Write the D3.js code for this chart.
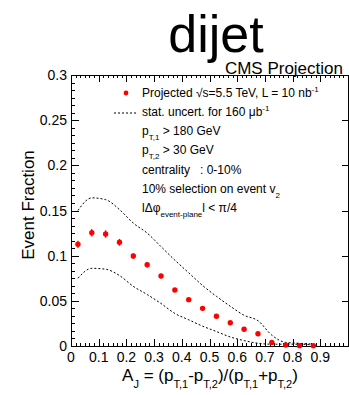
<!DOCTYPE html>
<html>
<head>
<meta charset="utf-8">
<script src="https://cdn.jsdelivr.net/npm/d3@7"></script>
<style>
  html, body { margin: 0; padding: 0; background: #fff; }
  svg { display: block; font-family: "Liberation Sans", Arial, Helvetica, sans-serif; }
</style>
</head>
<body>
<svg id="chart" width="349" height="395"></svg>
<script>
// ---- data ----
const ajCenters = [0.025, 0.075, 0.125, 0.175, 0.225, 0.275, 0.325, 0.375, 0.425, 0.475, 0.525, 0.575, 0.625, 0.675, 0.725, 0.775, 0.825, 0.875];
const fraction  = [0.1126, 0.1254, 0.1240, 0.1148, 0.0996, 0.0900, 0.0775, 0.0620, 0.0513, 0.0417, 0.0330, 0.0258, 0.0185, 0.0135, 0.0040, 0.0010, 0.0004, 0.0002];
const fracErr   = [0.0040, 0.0042, 0.0042, 0.0038, 0.0032, 0.0030, 0.0026, 0.0022, 0.0020, 0.0018, 0.0016, 0.0014, 0.0012, 0.0010, 0.0008, 0.0005, 0.0003, 0.0002];
const upperBand = [0.150, 0.164, 0.162, 0.151, 0.136, 0.125, 0.110, 0.095, 0.081, 0.067, 0.055, 0.044, 0.034, 0.028, 0.012, 0.004, 0.003, 0.002];
const lowerBand = [0.075, 0.086, 0.085, 0.078, 0.066, 0.057, 0.047, 0.036, 0.029, 0.022, 0.016, 0.010, 0.006, 0.003, 0.002, 0.002, 0.002, 0.001];
const xTickLabels = ["0", "0.1", "0.2", "0.3", "0.4", "0.5", "0.6", "0.7", "0.8", "0.9"];
const xTickValues = [0, 0.1, 0.2, 0.3, 0.4, 0.5, 0.6, 0.7, 0.8, 0.9];
const yTickLabels = ["0", "0.05", "0.1", "0.15", "0.2", "0.25", "0.3"];
const yTickValues = [0, 0.05, 0.1, 0.15, 0.2, 0.25, 0.3];

// ---- layout ----
const svg = d3.select("#chart");
const L = 71, R = 348, T = 75, B = 346;
const x = d3.scaleLinear().domain([0, 1]).range([L, R]);
const y = d3.scaleLinear().domain([0, 0.3]).range([B, T]);

// frame
svg.append("rect").attr("x", L + 0.5).attr("y", T + 0.5).attr("width", R - L).attr("height", B - T)
  .attr("fill", "none").attr("stroke", "#000").attr("stroke-width", 1);

// x ticks (bottom, pointing up) + top (pointing down)
const xMinor = d3.range(0, 1.0001, 0.1 / 6);
const ax = svg.append("g").attr("stroke", "#000").attr("stroke-width", 1);
xMinor.forEach(v => {
  const px = Math.round(x(v)) + 0.5;
  ax.append("line").attr("x1", px).attr("x2", px).attr("y1", B).attr("y2", B - 3);
  ax.append("line").attr("x1", px).attr("x2", px).attr("y1", T).attr("y2", T + 3);
});
xTickValues.concat([1]).forEach(v => {
  const px = Math.round(x(v)) + 0.5;
  ax.append("line").attr("x1", px).attr("x2", px).attr("y1", B).attr("y2", B - 7);
  ax.append("line").attr("x1", px).attr("x2", px).attr("y1", T).attr("y2", T + 7);
});
// y ticks (left, pointing right) + right majors
const yMinor = d3.range(0, 0.3001, 0.05 / 6);
yMinor.forEach(v => {
  const py = Math.round(y(v)) + 0.5;
  ax.append("line").attr("x1", L).attr("x2", L + 4).attr("y1", py).attr("y2", py);
});
yTickValues.forEach(v => {
  const py = Math.round(y(v)) + 0.5;
  ax.append("line").attr("x1", L).attr("x2", L + 8).attr("y1", py).attr("y2", py);
  ax.append("line").attr("x1", R).attr("x2", R - 6).attr("y1", py).attr("y2", py);
});

// tick labels
svg.append("g").selectAll("text").data(xTickValues).join("text")
  .attr("x", d => x(d)).attr("y", 362).attr("text-anchor", "middle")
  .attr("font-size", 14).text((d, i) => xTickLabels[i]);
svg.append("g").selectAll("text").data(yTickValues).join("text")
  .attr("x", 67).attr("y", d => y(d) + 5).attr("text-anchor", "end")
  .attr("font-size", 14).text((d, i) => yTickLabels[i]);

// band curves
const lineGen = d3.line().x((d, i) => x(ajCenters[i])).y(d => y(d)).curve(d3.curveMonotoneX);
[upperBand, lowerBand].forEach(band => {
  svg.append("path").attr("d", lineGen(band)).attr("fill", "none")
    .attr("stroke", "#000").attr("stroke-width", 1).attr("stroke-dasharray", "2,2");
});

// data points
const pts = svg.append("g");
ajCenters.forEach((c, i) => {
  pts.append("line").attr("x1", x(c)).attr("x2", x(c))
    .attr("y1", y(fraction[i] - fracErr[i])).attr("y2", y(fraction[i] + fracErr[i]))
    .attr("stroke", "#ff0000").attr("stroke-width", 1.2);
  pts.append("circle").attr("cx", x(c)).attr("cy", y(fraction[i])).attr("r", 2.7).attr("fill", "#ff0000");
});

// titles
svg.append("text").attr("x", 216).attr("y", 52).attr("text-anchor", "middle")
  .attr("font-size", 52).text("dijet");
svg.append("text").attr("x", 343).attr("y", 74).attr("text-anchor", "end")
  .attr("font-size", 17).text("CMS Projection");

// rich text helper: parts = [{t, shift, size}] ; shift is baseline offset from main baseline
function rich(t, parts, mainSize) {
  let cur = 0;
  parts.forEach(p => {
    const s = p.shift || 0;
    t.append("tspan").attr("dy", s - cur).attr("font-size", p.size || mainSize).text(p.t);
    cur = s;
  });
}

// axis titles
const xt = svg.append("text").attr("x", 210).attr("y", 381).attr("text-anchor", "middle")
  .attr("font-size", 17).attr("xml:space", "preserve");
rich(xt, [
  {t: "A"}, {t: "J", shift: 7, size: 11}, {t: " = (p"}, {t: "T,1", shift: 7, size: 11},
  {t: "-p"}, {t: "T,2", shift: 7, size: 11}, {t: ")/(p"}, {t: "T,1", shift: 7, size: 11},
  {t: "+p"}, {t: "T,2", shift: 7, size: 11}, {t: ")"}
], 17);

svg.append("text").attr("transform", "translate(34,205) rotate(-90)").attr("text-anchor", "middle")
  .attr("font-size", 17).text("Event Fraction");

// legend / annotations
const lx = 142, lfs = 12;
svg.append("circle").attr("cx", 126).attr("cy", 93).attr("r", 2.4).attr("fill", "#ff0000");
rich(svg.append("text").attr("x", lx).attr("y", 97).attr("font-size", lfs),
  [{t: "Projected \u221As=5.5 TeV, L = 10 nb"}, {t: "-1", shift: -5, size: 8}], lfs);

svg.append("line").attr("x1", 114).attr("x2", 138).attr("y1", 113).attr("y2", 113)
  .attr("stroke", "#000").attr("stroke-width", 1).attr("stroke-dasharray", "2,2");
rich(svg.append("text").attr("x", lx).attr("y", 116).attr("font-size", lfs),
  [{t: "stat. uncert. for 160 \u03BCb"}, {t: "-1", shift: -5, size: 8}], lfs);

rich(svg.append("text").attr("x", lx).attr("y", 135).attr("font-size", lfs),
  [{t: "p"}, {t: "T,1", shift: 5, size: 8}, {t: " > 180 GeV"}], lfs);
rich(svg.append("text").attr("x", lx).attr("y", 154).attr("font-size", lfs),
  [{t: "p"}, {t: "T,2", shift: 5, size: 8}, {t: " > 30 GeV"}], lfs);
rich(svg.append("text").attr("x", lx).attr("y", 174).attr("font-size", lfs),
  [{t: "centrality\u00A0\u00A0\u00A0: 0-10%"}], lfs);
rich(svg.append("text").attr("x", lx).attr("y", 193).attr("font-size", lfs),
  [{t: "10% selection on event v"}, {t: "2", shift: 5, size: 8}], lfs);
rich(svg.append("text").attr("x", lx).attr("y", 212).attr("font-size", lfs),
  [{t: "l\u0394\u03C6"}, {t: "event-plane", shift: 5, size: 8}, {t: "l < \u03C0/4"}], lfs);
</script>
</body>
</html>
